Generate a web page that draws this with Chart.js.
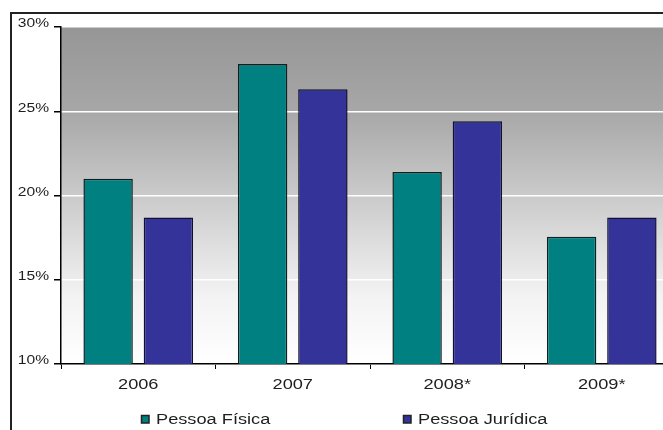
<!DOCTYPE html>
<html>
<head>
<meta charset="utf-8">
<script src="https://cdn.jsdelivr.net/npm/chart.js@4/dist/chart.umd.min.js"></script>
<style>
  html, body { margin: 0; padding: 0; background: #fff; overflow: hidden; width: 663px; height: 430px; }
  canvas { display: block; }
</style>
</head>
<body>
<canvas id="c" width="700" height="430"></canvas>
<script>
const categories = ['2006', '2007', '2008*', '2009*'];
const pessoaFisica = [21.0, 27.8, 21.4, 17.55];
const pessoaJuridica = [18.7, 26.3, 24.4, 18.7];
const seriesNames = ['Pessoa Física', 'Pessoa Jurídica'];
const yMin = 10, yMax = 30, yStep = 5;

const FONT = '"Liberation Sans", Arial, sans-serif';
const STRETCH = 1.3;

function stretchedText(ctx, text, x, y, align, size) {
  ctx.save();
  ctx.font = size + 'px ' + FONT;
  ctx.textAlign = align;
  ctx.textBaseline = 'middle';
  ctx.fillStyle = '#1e1e1e';
  ctx.translate(x, y);
  ctx.scale(STRETCH, 1);
  ctx.fillText(text, 0, 0);
  ctx.restore();
}

const bgPlugin = {
  id: 'bg',
  beforeDraw(chart) {
    const { ctx, chartArea: a } = chart;
    ctx.save();
    const g = ctx.createLinearGradient(0, a.top, 0, a.bottom);
    g.addColorStop(0, '#969696');
    g.addColorStop(0.25, '#a7a7a7');
    g.addColorStop(0.5, '#cacaca');
    g.addColorStop(0.8, '#f3f3f3');
    g.addColorStop(1, '#ffffff');
    ctx.fillStyle = g;
    ctx.fillRect(a.left, a.top, a.right - a.left, a.bottom - a.top);
    ctx.strokeStyle = '#222';
    ctx.lineWidth = 2;
    ctx.beginPath();
    ctx.moveTo(11, chart.height + 5);
    ctx.lineTo(11, 13);
    ctx.lineTo(chart.width + 5, 13);
    ctx.stroke();
    ctx.restore();
  },
  afterDraw(chart) {
    const { ctx } = chart;
    const ys = chart.scales.y, xs = chart.scales.x;
    ys.ticks.forEach(t => {
      const py = ys.getPixelForValue(t.value);
      stretchedText(ctx, t.value + '%', 49, py - 3, 'right', 12);
    });
    xs.ticks.forEach((t, i) => {
      const px = xs.getPixelForTick(i);
      stretchedText(ctx, xs.getLabelForValue(t.value), px, 385, 'center', 14);
    });
    const lx = [141, 403];
    chart.data.datasets.forEach((ds, i) => {
      const x = lx[i], y = 419;
      ctx.save();
      ctx.fillStyle = ds.backgroundColor;
      ctx.fillRect(x, y - 4, 8, 8);
      ctx.strokeStyle = '#222';
      ctx.lineWidth = 1.5;
      ctx.strokeRect(x + 0.5, y - 3.5, 7.5, 7.5);
      ctx.restore();
      stretchedText(ctx, ds.label, x + 15, y + 1, 'left', 14);
    });
  }
};

new Chart(document.getElementById('c'), {
  type: 'bar',
  data: {
    labels: categories,
    datasets: [
      { label: seriesNames[0], data: pessoaFisica, backgroundColor: '#008080', borderColor: '#102020', borderWidth: 1.5 },
      { label: seriesNames[1], data: pessoaJuridica, backgroundColor: '#333399', borderColor: '#101030', borderWidth: 1.5 }
    ]
  },
  options: {
    responsive: false,
    animation: false,
    devicePixelRatio: 1,
    categoryPercentage: 0.78,
    barPercentage: 0.82,
    layout: { padding: { left: 11, top: 27, right: 21, bottom: 0 } },
    plugins: { legend: { display: false }, tooltip: { enabled: false } },
    scales: {
      x: {
        grid: { drawOnChartArea: false, color: '#000', tickLength: 5, offset: true },
        border: { color: '#000', width: 1.5 },
        ticks: { display: false },
        afterFit(s) { s.height = 66; }
      },
      y: {
        min: yMin, max: yMax,
        grid: { color: '#ffffff', lineWidth: 1.5, tickColor: '#000', tickLength: 7 },
        border: { color: '#000', width: 1.5 },
        ticks: { stepSize: yStep, display: false },
        afterFit(s) { s.width = 50; }
      }
    }
  },
  plugins: [bgPlugin]
});
</script>
</body>
</html>
